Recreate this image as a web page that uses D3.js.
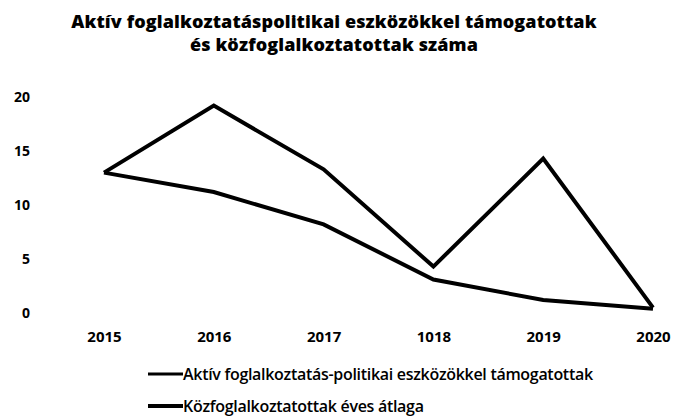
<!DOCTYPE html>
<html>
<head>
<meta charset="utf-8">
<script src="https://cdn.jsdelivr.net/npm/d3@7"></script>
<style>
  body { margin: 0; background: #fff; }
  text { font-family: "Open Sans", sans-serif; fill: #000; }
</style>
</head>
<body>
<div id="chart"></div>
<script>
/*
 * Line chart: aktív eszközökkel támogatottak / közfoglalkoztatottak
 */

var years = ["2015", "2016", "2017", "1018", "2019", "2020"];
var yTicks = [0, 5, 10, 15, 20];
var seriesNames = [
    "Aktív foglalkoztatás-politikai eszközökkel támogatottak",
    "Közfoglalkoztatottak éves átlaga"
];
var aktivValues = [13, 11.2, 8.2, 3.1, 1.2, 0.4];
var kozValues = [13, 19.2, 13.3, 4.3, 14.3, 0.5];

var width = 673;
var height = 420;

var svg = d3.select('#chart')
    .append('svg')
    .attr('width', width)
    .attr('height', height);

var x = d3.scalePoint()
    .domain(years)
    .range([104, 653]);

var y = d3.scaleLinear()
    .domain([0, 20])
    .range([313, 97]);

// title
svg.append('text')
    .attr('x', 334)
    .attr('y', 28)
    .attr('text-anchor', 'middle')
    .style('font-size', '18px')
    .style('font-weight', '800')
    .style('letter-spacing', '0.1px')
    .text('Aktív foglalkoztatáspolitikai eszközökkel támogatottak');
svg.append('text')
    .attr('x', 334)
    .attr('y', 51)
    .attr('text-anchor', 'middle')
    .style('font-size', '18px')
    .style('font-weight', '800')
    .style('letter-spacing', '0.1px')
    .text('és közfoglalkoztatottak száma');

// y axis labels
svg.append('g')
    .attr('transform', 'translate(30,0)')
    .call(d3.axisLeft(y).tickValues(yTicks).tickSize(0).tickPadding(0))
    .call(function (g) { g.select('.domain').remove(); })
    .selectAll('text')
    .attr('text-anchor', 'end')
    .style('font-family', '"Open Sans", sans-serif')
    .style('font-size', '14px')
    .style('font-weight', 'bold');

// x axis labels
svg.append('g')
    .attr('transform', 'translate(0,331)')
    .call(d3.axisBottom(x).tickSize(0).tickPadding(0))
    .call(function (g) { g.select('.domain').remove(); })
    .selectAll('text')
    .style('font-family', '"Open Sans", sans-serif')
    .style('font-size', '15px')
    .style('font-weight', 'bold');

var line = d3.line()
    .x(function (d, i) { return x(years[i]); })
    .y(function (d) { return y(d); });

svg.selectAll('path.series')
    .data([aktivValues, kozValues])
    .enter()
    .append('path')
    .attr('class', 'series')
    .attr('d', line)
    .attr('fill', 'none')
    .attr('stroke', '#000')
    .attr('stroke-width', 4)
    .attr('stroke-linejoin', 'miter');

// legend
var legend = svg.selectAll('.legend')
    .data(seriesNames)
    .enter()
    .append('g')
    .attr('class', 'legend')
    .attr('transform', function (d, i) {
        return 'translate(148,' + (374 + i * 32) + ')';
    });

legend.append('line')
    .attr('x1', 0)
    .attr('x2', 35)
    .attr('y1', 0)
    .attr('y2', 0)
    .attr('stroke', '#000')
    .attr('stroke-width', function (d, i) { return i === 0 ? 3 : 4; });

legend.append('text')
    .attr('x', 35)
    .attr('y', 6)
    .style('font-size', '16px')
    .style('font-weight', '600')
    .style('letter-spacing', '-0.3px')
    .text(function (d) { return d; });
</script>
</body>
</html>
